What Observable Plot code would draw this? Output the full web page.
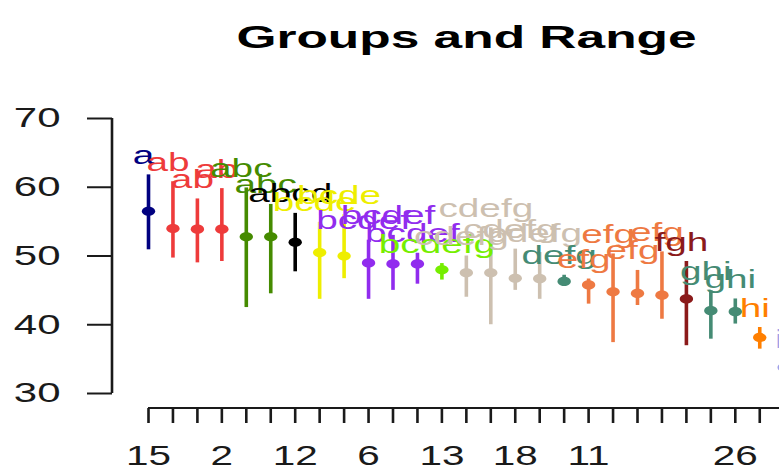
<!DOCTYPE html>
<html>
<head>
<meta charset="utf-8">
<script src="https://cdn.jsdelivr.net/npm/d3@7"></script>
<script src="https://cdn.jsdelivr.net/npm/@observablehq/plot@0.6"></script>
<style>
  html, body { margin: 0; padding: 0; background: white; overflow: hidden; }
</style>
</head>
<body>
<div id="chart"></div>
<script>
// ---- data ----
const title = "Groups and Range";
const groups = ["15","4","20","2","9","23","12","17","1","6","25","8","13","3","22","18","10","27","11","5","16","21","7","19","26","14","24"];
const means  = [56.5, 54.0, 53.9, 53.9, 52.8, 52.8, 52.0, 50.5, 50.0, 49.0, 48.85, 48.85, 48.0, 47.55, 47.55, 46.75, 46.7, 46.3, 45.8, 44.8, 44.55, 44.3, 43.75, 42.05, 41.9, 38.15, 33.8];
const lower  = [50.9, 49.7, 49.0, 49.2, 42.5, 44.5, 47.7, 43.7, 46.7, 43.7, 45.0, 45.9, 46.5, 44.0, 40.0, 45.0, 43.7, 45.6, 43.0, 37.4, 42.8, 40.8, 36.95, 37.9, 40.1, 36.45, 32.0];
const upper  = [61.8, 60.8, 58.3, 59.8, 59.9, 57.5, 56.2, 54.9, 56.0, 52.3, 53.0, 50.4, 48.9, 50.0, 54.1, 51.0, 50.5, 47.2, 46.65, 50.3, 47.9, 50.6, 49.2, 44.95, 43.75, 39.6, 35.0];
const letters = ["a","ab","ab","ab","abc","abc","abcd","bcde","bcde","bcdef","bcdef","bcdef","bcdefg","cdefg","cdefg","cdefg","cdefg","defg","efg","efg","efg","efg","fgh","ghi","ghi","hi","i"];
const colors = ["#000080","#EE3B3B","#EE3B3B","#EE3B3B","#458B00","#458B00","#000000","#EEEE00","#EEEE00","#912CEE","#912CEE","#912CEE","#76EE00","#CDC0B0","#CDC0B0","#CDC0B0","#CDC0B0","#458B74","#EE7942","#EE7942","#EE7942","#EE7942","#8B1A1A","#458B74","#458B74","#FF7F00","#9F9FE8"];
const yTicks = [30, 40, 50, 60, 70];
const shownTickLabels = ["15","2","12","6","13","18","11","26"];

const rows = groups.map((g, i) => ({
  idx: i + 1, group: g, mean: means[i], lo: lower[i], hi: upper[i],
  letters: letters[i], color: colors[i]
}));
const xTickIdx = rows.map(d => d.idx);

// slightly wide filled point (the reference's dots are wider than tall)
const ellipse = {
  draw(ctx, size) {
    const r = Math.sqrt(size / Math.PI), rx = r * 1.45, ry = r, k = 0.5523;
    ctx.moveTo(rx, 0);
    ctx.bezierCurveTo(rx, ry * k, rx * k, ry, 0, ry);
    ctx.bezierCurveTo(-rx * k, ry, -rx, ry * k, -rx, 0);
    ctx.bezierCurveTo(-rx, -ry * k, -rx * k, -ry, 0, -ry);
    ctx.bezierCurveTo(rx * k, -ry, rx, -ry * k, rx, 0);
    ctx.closePath();
  }
};

const W = 779, H = 472, mL = 112, mB = 64;
const plot = Plot.plot({
  width: W, height: H,
  marginLeft: mL, marginRight: 0, marginTop: 0, marginBottom: mB,
  style: { fontFamily: "'Liberation Sans', Arial, sans-serif", background: "white" },
  x: { type: "linear", domain: [1, 27], range: [148, 783.7], axis: null, label: null },
  y: { domain: [30, 70], range: [393, 118], axis: null, label: null },
  color: { type: "identity" },
  marks: [
    Plot.axisY({ ticks: yTicks, tickSize: 25, tickPadding: 27, fontSize: 28, strokeWidth: 2, color: "#1a1a1a", label: null }),
    Plot.axisX({ ticks: xTickIdx, tickFormat: i => shownTickLabels.includes(groups[i - 1]) ? groups[i - 1] : "",
                 tickSize: 15, tickPadding: 22, fontSize: 27, strokeWidth: 2.6, color: "#1a1a1a", label: null }),
    Plot.ruleX(rows, { x: "idx", y1: "lo", y2: "hi", stroke: "color", strokeWidth: 3.6 }),
    Plot.dot(rows, { x: "idx", y: "mean", fill: "color", r: 4.6, symbol: ellipse }),
    Plot.text(rows, { x: "idx", y: "hi", text: "letters", fill: "color", fontSize: 25, dx: -5, dy: -19 }),
    Plot.text([title], { text: d => d, frameAnchor: "top", dx: 20.5, dy: 25, fontSize: 31, fontWeight: "bold", fill: "#000" })
  ]
});

// axis lines (R style: spanning the tick range)
const ns = "http://www.w3.org/2000/svg";
const ys = plot.scale("y"), xs = plot.scale("x");
function line(x1, y1, x2, y2, w) {
  const l = document.createElementNS(ns, "line");
  l.setAttribute("x1", x1); l.setAttribute("y1", y1);
  l.setAttribute("x2", x2); l.setAttribute("y2", y2);
  l.setAttribute("stroke", "#1a1a1a"); l.setAttribute("stroke-width", w);
  plot.appendChild(l);
}
line(mL, ys.apply(yTicks[0]), mL, ys.apply(yTicks[yTicks.length - 1]), 2.6);
line(xs.apply(1), H - mB, xs.apply(rows.length), H - mB, 2);

// the reference's text is horizontally wide: stretch each text about its anchor
function stretchEl(t, sx) {
  const x = +t.getAttribute("x") || 0;
  const tr = t.getAttribute("transform") || "";
  t.setAttribute("transform", `${tr} translate(${x},0) scale(${sx},1) translate(${-x},0)`);
}
const letterSet = new Set(letters);
plot.querySelectorAll("text").forEach(t => {
  const s = t.textContent;
  if (s === title) stretchEl(t, 1.66);
  else if (letterSet.has(s)) stretchEl(t, 1.55);
  else stretchEl(t, 1.5);
});

document.getElementById("chart").appendChild(plot);
</script>
</body>
</html>
